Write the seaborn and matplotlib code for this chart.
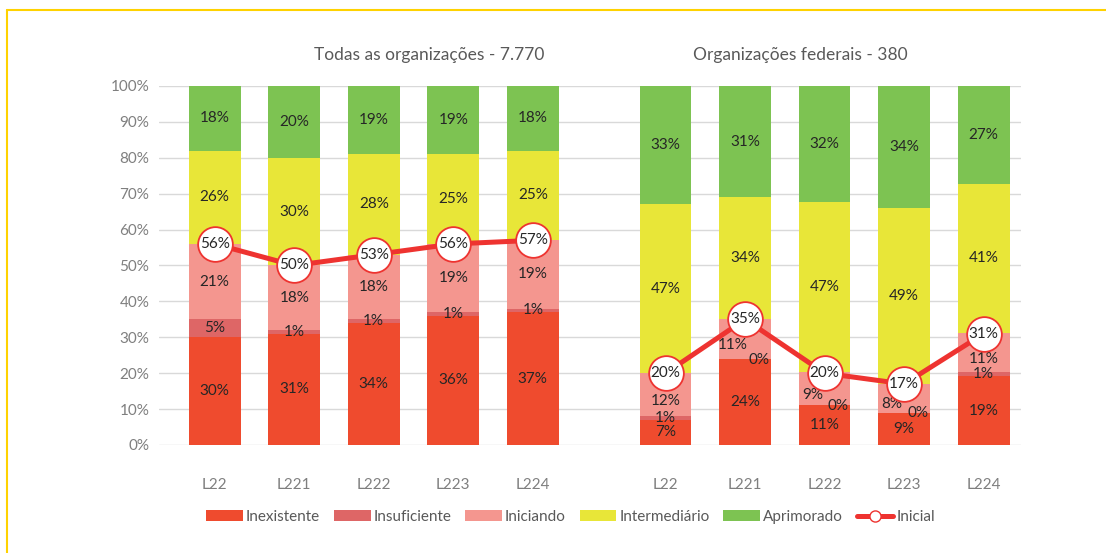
import numpy as np
import pandas as pd
import matplotlib.pyplot as plt
from matplotlib.patches import Patch
from matplotlib.lines import Line2D
import seaborn as sns

sns.set_theme(style="white")
plt.rcParams['font.family'] = ['Lato', 'DejaVu Sans']

# Data (percent), two groups of five bars
labels = ["L22", "L221", "L222", "L223", "L224"]
group_titles = ["Todas as organizações - 7.770", "Organizações federais - 380"]

inexistente = [30, 31, 34, 36, 37, 7, 24, 11, 9, 19]
insuficiente = [5, 1, 1, 1, 1, 1, 0, 0, 0, 1]
iniciando = [21, 18, 18, 19, 19, 12, 11, 9, 8, 11]
intermediario = [26, 30, 28, 25, 25, 47, 34, 47, 49, 41]
aprimorado = [18, 20, 19, 19, 18, 33, 31, 32, 34, 27]
inicial = [56, 50, 53, 56, 57, 20, 35, 20, 17, 31]

series = ["Inexistente", "Insuficiente", "Iniciando", "Intermediário", "Aprimorado"]
colors = ["#EF4B2E", "#DE6666", "#F4968F", "#E8E638", "#7DC352"]
line_color = "#EE3330"

# x positions: two groups with a gap
pos = np.array([0, 1, 2, 3, 4, 5.67, 6.67, 7.67, 8.67, 9.67])

df = pd.DataFrame({"pos": pos, "Inexistente": inexistente, "Insuficiente": insuficiente,
                   "Iniciando": iniciando, "Intermediário": intermediario,
                   "Aprimorado": aprimorado, "Inicial": inicial})
# rounded values may not add to 100: stack the shares so each bar fills 100%
share = df[series].div(df[series].sum(axis=1), axis=0) * 100
cum = share.cumsum(axis=1)

fig = plt.figure(figsize=(11.06, 5.53), dpi=100)
ax = fig.add_axes([0.1438, 0.1953, 0.7794, 0.6492])

# stacked bars: draw cumulative totals from top layer down
for s, c in reversed(list(zip(series, colors))):
    sns.barplot(x=df["pos"], y=cum[s], color=c, width=0.65, native_scale=True,
                saturation=1, errorbar=None, orient="x", ax=ax, zorder=2,
                linewidth=0, edgecolor="none")

# segment labels
fs = 11
for i, p in enumerate(pos):
    has_zero = any(df.loc[i, s] == 0 for s in series)
    fed = i >= 5
    for j, s in enumerate(series):
        v = df.loc[i, s]
        top = cum.loc[i, s]
        bottom = top - share.loc[i, s]
        if v == 0:
            ax.text(p + 0.17, bottom - 0.2, "0%", ha="center", va="center",
                    fontsize=fs, color="#262626", zorder=4)
            continue
        x, y = p, (bottom + top) / 2
        if s == "Iniciando" and fed:
            y -= 1.7
            if has_zero:
                x -= 0.15
        ax.text(x, y, f"{v}%", ha="center", va="center", fontsize=fs,
                color="#262626", zorder=4)

# Inicial line, separately per group
for g in (slice(0, 5), slice(5, 10)):
    sub = df.iloc[g]
    sns.lineplot(x=sub["pos"], y=sub["Inicial"], color=line_color, lw=3.6,
                 marker="o", markersize=25, markerfacecolor="white",
                 markeredgecolor=line_color, markeredgewidth=1.3, ax=ax, zorder=5)
for p, v in zip(pos, inicial):
    ax.text(p, v, f"{v}%", ha="center", va="center", fontsize=fs, color="#262626", zorder=6)

# axes styling
ax.set_ylim(0, 100)
ax.set_xlim(-0.70, 10.14)
ax.set_yticks(range(0, 101, 10))
ax.set_yticklabels([f"{t}%" for t in range(0, 101, 10)], fontsize=fs, color="#7F7F7F")
ax.set_xticks(pos)
ax.set_xticklabels(labels * 2, fontsize=fs, color="#7F7F7F")
ax.tick_params(axis="x", length=0, pad=24)
ax.tick_params(axis="y", length=0, pad=7)
ax.yaxis.grid(True, color="#D9D9D9", lw=1)
ax.set_axisbelow(True)
for sp in ax.spines.values():
    sp.set_visible(False)
ax.set_xlabel("")
ax.set_ylabel("")

# group titles
ax.text(2.70, 108.7, group_titles[0], ha="center", va="center", fontsize=12.5, color="#595959")
ax.text(7.36, 108.7, group_titles[1], ha="center", va="center", fontsize=12.5, color="#595959")

# legend
handles = [Patch(facecolor=c, edgecolor="none") for c in colors]
handles.append(Line2D([0], [0], color=line_color, lw=3.6, marker="o", markersize=8,
                      markerfacecolor="white", markeredgecolor=line_color))
fig.legend(handles, series + ["Inicial"], loc="center", bbox_to_anchor=(0.516, 0.065),
           ncol=6, frameon=False, fontsize=11, handlelength=2.4, handleheight=0.75,
           columnspacing=0.9, handletextpad=0.2, labelcolor="#595959")

# yellow frame
fig.add_artist(Line2D([7 / 1106, 1], [1 - 10 / 553, 1 - 10 / 553], color="#FFD200", lw=1.5,
                      transform=fig.transFigure))
fig.add_artist(Line2D([7 / 1106, 7 / 1106], [0, 1 - 10 / 553], color="#FFD200", lw=1.5,
                      transform=fig.transFigure))

fig.savefig("out.png", dpi=100)
